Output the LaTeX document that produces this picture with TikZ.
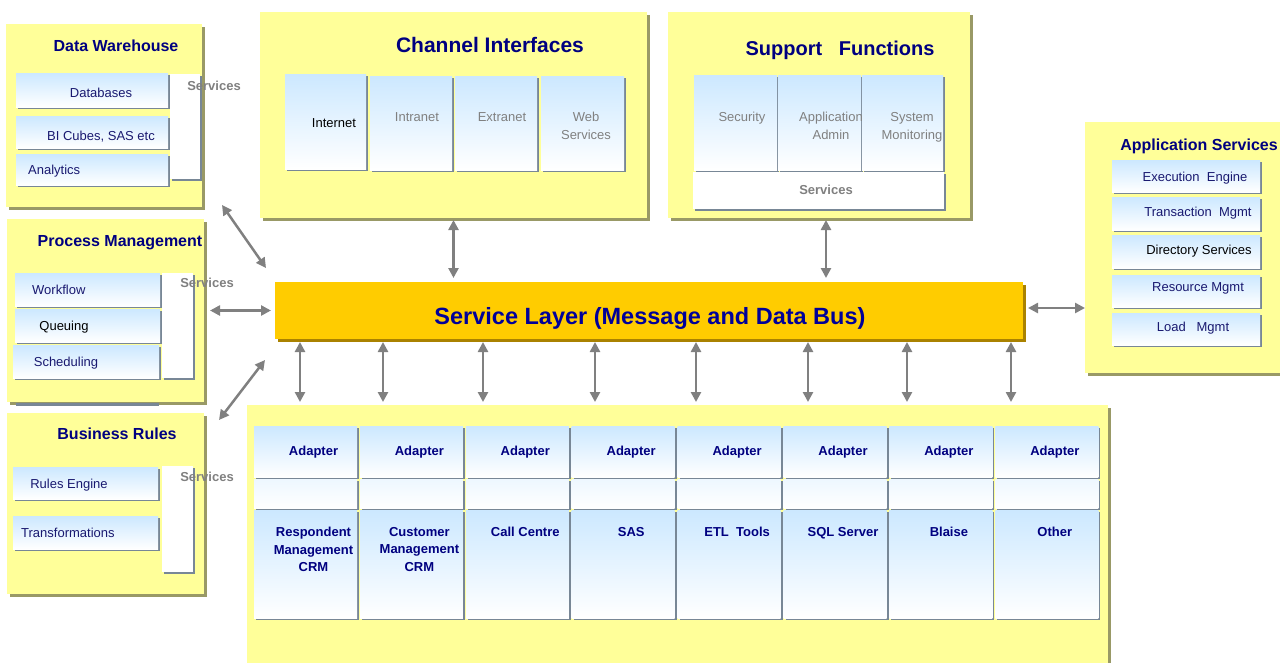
\documentclass[tikz,border=0pt]{standalone}
\usepackage{fontspec}
\setmainfont{Liberation Sans}
\usetikzlibrary{fit,shadows,arrows.meta}

\definecolor{panelyellow}{RGB}{255,255,153}
\definecolor{panelshadow}{RGB}{153,153,102}
\definecolor{tileblue}{RGB}{204,232,255}
\definecolor{tileshadow}{RGB}{120,135,150}
\definecolor{busyellow}{RGB}{255,204,0}
\definecolor{busshadow}{RGB}{170,130,0}
\definecolor{navytext}{RGB}{0,0,128}
\definecolor{labeltext}{RGB}{25,25,112}
\definecolor{greytext}{RGB}{128,128,128}
\definecolor{bustext}{RGB}{0,0,153}
\definecolor{arrowgrey}{RGB}{128,128,128}

\tikzset{
  panel/.style={fill=panelyellow, inner sep=0pt, outer sep=0pt,
    drop shadow={shadow xshift=3pt, shadow yshift=-3pt, fill=panelshadow, opacity=1}},
  tile/.style={top color=tileblue, bottom color=white, inner sep=0pt, outer sep=0pt,
    drop shadow={shadow xshift=2pt, shadow yshift=-2pt, fill=tileshadow, opacity=1}},
  band/.style={tile, top color=tileblue!35},
  whitebox/.style={fill=white, inner sep=0pt, outer sep=0pt,
    drop shadow={shadow xshift=2pt, shadow yshift=-2pt, fill=tileshadow, opacity=1}},
  busbox/.style={fill=busyellow, inner sep=0pt, outer sep=0pt,
    drop shadow={shadow xshift=3pt, shadow yshift=-3pt, fill=busshadow, opacity=1}},
  boxtitle/.style={font=\fontsize{16}{19}\selectfont\bfseries, text=navytext, inner sep=0pt,
    text height=11.5pt, text depth=0pt},
  bigtitle/.style={boxtitle, font=\fontsize{21}{25}\selectfont\bfseries, text height=15pt},
  lbl/.style={font=\fontsize{13}{18}\selectfont, text=labeltext, inner sep=0pt,
    text height=9.3pt, text depth=0pt, align=center},
  multi/.style={anchor=north, text height={}, text depth={}},
  greylbl/.style={lbl, text=greytext},
  svclbl/.style={lbl, font=\fontsize{13}{18}\selectfont\bfseries, text=greytext},
  adplbl/.style={lbl, font=\fontsize{13}{17.5}\selectfont\bfseries, text=navytext},
  biarrow/.style={draw=arrowgrey, line width=2.5pt,
    {Triangle[length=10pt,width=10pt]}-{Triangle[length=10pt,width=10pt]}},
}

\begin{document}
\begin{tikzpicture}[x=1pt,y=-1pt]
  \useasboundingbox (0,0) rectangle (1280,662);

  % Data Warehouse
  \node[panel, fit={(6,24) (202,207)}] (dw) {};
  \node[boxtitle] (dwtitle) at (116,46) {Data Warehouse};
  \node[whitebox, fit={(170,74) (200,179)}] (dwsvc) {};
  \node[tile, fit={(16,73) (168,107)}] (dwdb) {};
  \node[tile, fit={(16,116) (168,148)}] (dwbi) {};
  \node[tile, fit={(16,154) (168,185)}] (dwan) {};
  \node[lbl] (dwdbtext) at (101,93) {Databases};
  \node[lbl] (dwbitext) at (101,136) {BI Cubes, SAS etc};
  \node[lbl, anchor=west] (dwantext) at (28,170) {Analytics};
  \node[svclbl] (dwsvctext) at (214,86) {Services};

  % Process Management
  \node[panel, fit={(7,219) (204,402)}] (pm) {};
  \fill[tileshadow] (16,403) rectangle (159,406);
  \node[boxtitle] (pmtitle) at (120,241) {Process Management};
  \node[whitebox, fit={(162,273) (193,378)}] (pmsvc) {};
  \node[tile, fit={(15,273) (160,306)}] (pmwf) {};
  \node[tile, fit={(15,309) (160,342)}] (pmq) {};
  \node[tile, fit={(13,345) (159,378)}] (pmsch) {};
  \node[lbl, anchor=west] (pmwftext) at (32,290) {Workflow};
  \node[lbl, text=black] (pmqtext) at (64,326) {Queuing};
  \node[lbl] (pmschtext) at (66,362) {Scheduling};
  \node[svclbl] (pmsvctext) at (207,283) {Services};

  % Business Rules
  \node[panel, fit={(7,413) (204,594)}] (br) {};
  \node[boxtitle] (brtitle) at (117,434) {Business Rules};
  \node[whitebox, fit={(162,466) (193,572)}] (brsvc) {};
  \node[tile, fit={(13,467) (158,499)}] (brre) {};
  \node[tile, fit={(13,516) (158,549)}] (brtr) {};
  \node[lbl] (bretext) at (69,484) {Rules Engine};
  \node[lbl, anchor=west] (brtrtext) at (21,533) {Transformations};
  \node[svclbl] (brsvctext) at (207,477) {Services};

  % Channel Interfaces
  \node[panel, fit={(260,12) (647,218)}] (chan) {};
  \node[bigtitle] (chantitle) at (490,45) {Channel Interfaces};
  \node[tile, fit={(285,74) (366,169)}] (chinet) {};
  \node[tile, fit={(370,76) (452,170)}] (chintra) {};
  \node[tile, fit={(455,76) (537,170)}] (chextra) {};
  \node[tile, fit={(541,76) (624,170)}] (chweb) {};
  \node[lbl, text=black] (chinettext) at (334,123) {Internet};
  \node[greylbl] (chintratext) at (417,117) {Intranet};
  \node[greylbl] (chextratext) at (502,117) {Extranet};
  \node[greylbl, multi] (chwebtext) at (586,112) {Web\\Services};

  % Support Functions
  \node[panel, fit={(668,12) (970,218)}] (supp) {};
  \node[bigtitle, font=\fontsize{20}{24}\selectfont\bfseries] (supptitle) at (840,48) {Support\ \ \ Functions};
  \node[tile, fit={(694,75) (777,170)}] (spsec) {};
  \node[tile, fit={(778,75) (861,170)}] (spadm) {};
  \node[tile, fit={(862,75) (943,170)}] (spmon) {};
  \node[whitebox, fit={(693,172) (944,209)}] (spsvc) {};
  \node[greylbl] (spsectext) at (742,117) {Security};
  \node[greylbl, multi] (spadmtext) at (831,112) {Application\\Admin};
  \node[greylbl, multi] (spmontext) at (912,112) {System\\Monitoring};
  \node[svclbl] (spsvctext) at (826,190) {Services};

  % Application Services
  \node[panel, fit={(1085,122) (1295,373)}] (apps) {};
  \node[boxtitle] (appstitle) at (1199,145) {Application Services};
  \node[tile, fit={(1112,160) (1260,192)}] (apexe) {};
  \node[tile, fit={(1112,197) (1260,230)}] (aptrn) {};
  \node[tile, fit={(1112,235) (1260,268)}] (apdir) {};
  \node[tile, fit={(1112,275) (1260,307)}] (apres) {};
  \node[tile, fit={(1112,313) (1260,345)}] (apload) {};
  \node[lbl] (apexetext) at (1195,177) {Execution\ \ Engine};
  \node[lbl] (aptrntext) at (1198,212) {Transaction\ \ Mgmt};
  \node[lbl, text=black] (apdirtext) at (1199,250) {Directory Services};
  \node[lbl] (aprestext) at (1198,287) {Resource Mgmt};
  \node[lbl] (aploadtext) at (1193,327) {Load\ \ \ Mgmt};

  % Service Layer
  \node[busbox, fit={(275,282) (1023,339)}] (bus) {};
  \node[font=\fontsize{23.5}{28}\selectfont\bfseries, text=bustext, inner sep=0pt,
    text height=16.8pt, text depth=0pt] (bustitle) at (650,316) {Service Layer (Message and Data Bus)};

  % Adapters
  \node[panel, fit={(247,405) (1108,675)}] (adp) {};
  \foreach \i/\sysname in {0/{Respondent\\Management\\CRM}, 1/{Customer\\Management\\CRM},
      2/Call Centre, 3/SAS, 4/ETL\ \ Tools, 5/SQL Server, 6/Blaise, 7/Other} {
    \pgfmathsetmacro\cx{254+105.9*\i}
    \node[tile, fit={(\cx,426) (\cx+103,477)}] (adapter\i) {};
    \node[band, fit={(\cx,479) (\cx+103,508)}] (gap\i) {};
    \node[tile, fit={(\cx,510) (\cx+103,618)}] (system\i) {};
    \node[adplbl] (adaptertext\i) at (\cx+59.5,451) {Adapter};
    \node[adplbl, multi] (systemtext\i) at (\cx+59.5,527) {\sysname};
  }

  % connectors
  \draw[biarrow, shorten <=2pt, shorten >=4pt] (chan.south) -- (chan.south |- bus.north);
  \coordinate (suppx) at (826,0);
  \draw[biarrow, shorten <=2pt, shorten >=4pt] (supp.south -| suppx) -- (bus.north -| suppx);
  \draw[biarrow] ([xshift=20pt,yshift=2pt]dw.south east) -- ([xshift=-9pt,yshift=14pt]bus.north west);
  \draw[biarrow, shorten <=6pt, shorten >=4pt] (pm.east) -- (bus.west);
  \draw[biarrow] ([xshift=15pt,yshift=-7pt]br.north east) -- ([xshift=-10pt,yshift=-21pt]bus.south west);
  \coordinate (busright) at ([yshift=2.5pt]bus.east);
  \draw[biarrow, shorten <=5pt] (busright) -- (busright -| apps.west);
  \foreach \x in {300,383,483,595,696,808,907,1011} {
    \coordinate (tapx) at (\x,0);
    \draw[biarrow, shorten <=3pt, shorten >=3pt] (bus.south -| tapx) -- (adp.north -| tapx);
  }
\end{tikzpicture}
\end{document}
